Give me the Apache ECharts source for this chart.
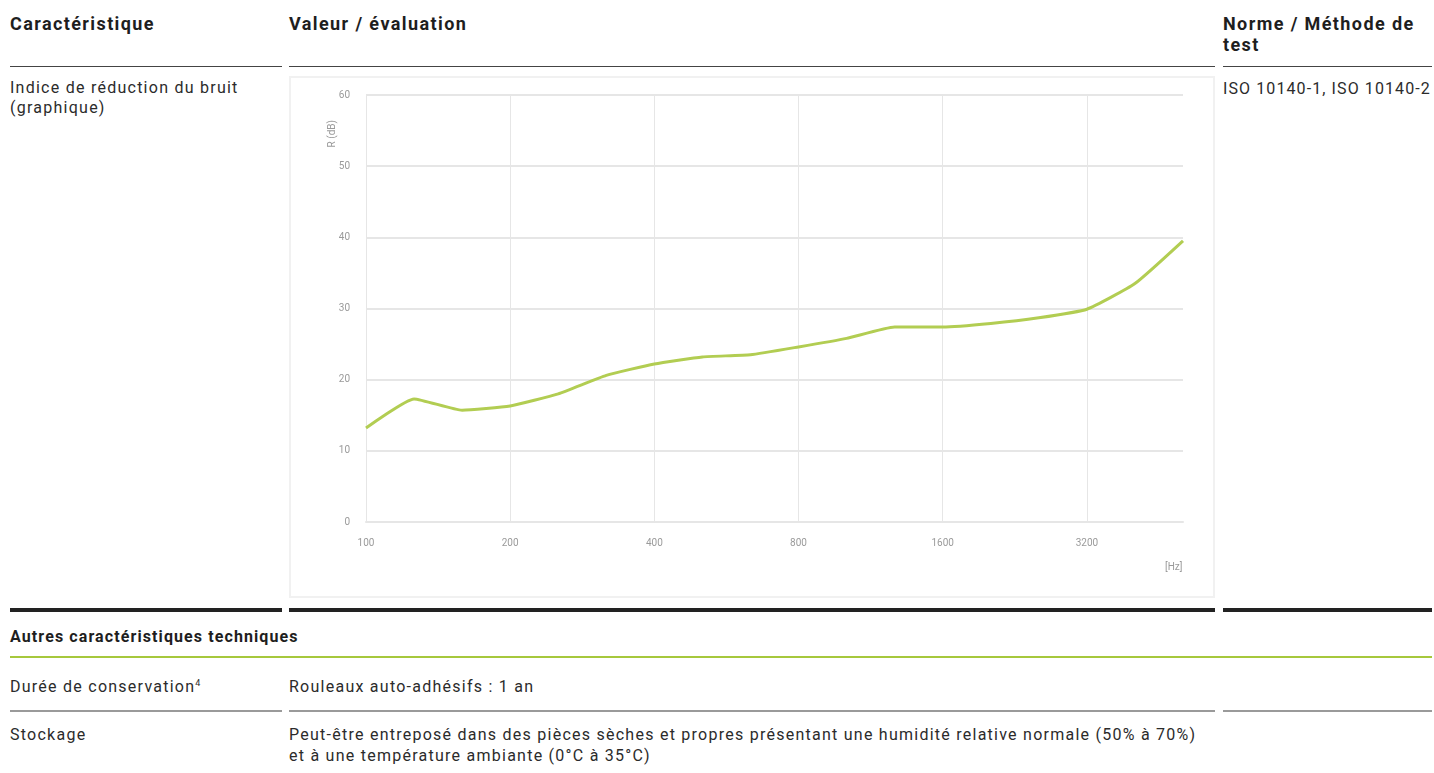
<!DOCTYPE html>
<html lang="fr">
<head>
<meta charset="utf-8">
<title>Indice de réduction du bruit</title>
<script src="https://cdn.jsdelivr.net/npm/echarts@6/dist/echarts.min.js"></script>
<style>
  html, body { margin: 0; padding: 0; background: #fff; }
  body { width: 1434px; height: 773px; position: relative; overflow: hidden;
         font-family: Roboto, "Noto Sans", sans-serif; color: #2b2b2b; }
  .t { position: absolute; white-space: nowrap; font-size: 16px; line-height: 21px; letter-spacing: 1.25px; }
  .h { font-weight: bold; font-size: 18px; color: #1e1e1e; letter-spacing: 1.4px; }
  .sub { font-weight: bold; font-size: 16px; color: #1e1e1e; letter-spacing: 1.1px; }
  .rule { position: absolute; }
  .thin { height: 1px; background: #444; }
  .thick { height: 4px; background: #222; }
  .grey { height: 2px; background: #9a9a9a; }
  .green { height: 2px; background: #a6c83c; }
  #chart { position: absolute; left: 289px; top: 76px; width: 926px; height: 522px;
           box-sizing: border-box; border: 2px solid #f1f1f1; background: #fff; }
</style>
</head>
<body>
<div class="t h" style="left:10px;top:13px;">Caractéristique</div>
<div class="t h" style="left:289px;top:13px;">Valeur / évaluation</div>
<div class="t h" style="left:1223px;top:13px;">Norme / Méthode de<br>test</div>

<div class="rule thin" style="left:10px;top:66px;width:272px;"></div>
<div class="rule thin" style="left:289px;top:66px;width:926px;"></div>
<div class="rule thin" style="left:1223px;top:66px;width:209px;"></div>

<div class="t" style="left:10px;top:78px;line-height:20px;">Indice de réduction du bruit<br>(graphique)</div>
<div class="t" style="left:1223px;top:78px;letter-spacing:1.1px;">ISO 10140-1, ISO 10140-2</div>

<div id="chart"></div>

<div class="rule thick" style="left:10px;top:608px;width:272px;"></div>
<div class="rule thick" style="left:289px;top:608px;width:926px;"></div>
<div class="rule thick" style="left:1223px;top:608px;width:209px;"></div>

<div class="t sub" style="left:10px;top:626px;">Autres caractéristiques techniques</div>
<div class="rule green" style="left:10px;top:656px;width:1422px;"></div>

<div class="t" style="left:10px;top:676px;">Durée de conservation<sup style="font-size:9px;vertical-align:6px;line-height:0;">4</sup></div>
<div class="t" style="left:289px;top:676px;">Rouleaux auto-adhésifs : 1 an</div>

<div class="rule grey" style="left:10px;top:710px;width:272px;"></div>
<div class="rule grey" style="left:289px;top:710px;width:926px;"></div>
<div class="rule grey" style="left:1223px;top:710px;width:209px;"></div>

<div class="t" style="left:10px;top:724px;">Stockage</div>
<div class="t" style="left:289px;top:724px;">Peut-être entreposé dans des pièces sèches et propres présentant une humidité relative normale (50% à 70%)<br>et à une température ambiante (0°C à 35°C)</div>

<script>
// third-octave bands, Hz
var frequencies = ['100', '125', '160', '200', '250', '315', '400', '500', '630',
                   '800', '1000', '1250', '1600', '2000', '2500', '3200', '4000', '5000'];
// sound reduction index R, dB
var reduction = [13.2, 17.3, 15.7, 16.3, 18.0, 20.6, 22.2, 23.2, 23.5,
                 24.6, 25.8, 27.4, 27.4, 27.9, 28.7, 29.9, 33.5, 39.5];
var yTicks = [0, 60, 10]; // min, max, step

var chart = echarts.init(document.getElementById('chart'));
var grey = '#9a9a9a';
chart.setOption({
  animation: false,
  grid: { left: 75, right: 30, top: 17, bottom: 74 },
  xAxis: {
    type: 'category',
    boundaryGap: false,
    data: frequencies,
    axisTick: { show: false },
    axisLine: { lineStyle: { color: '#e6e6e6', width: 2 } },
    axisLabel: { interval: 2, color: grey, fontSize: 10, margin: 16, fontFamily: 'Roboto' },
    splitLine: { show: true, interval: 2, lineStyle: { color: '#e6e6e6', width: 1 } }
  },
  yAxis: {
    type: 'value',
    min: yTicks[0], max: yTicks[1], interval: yTicks[2],
    axisLine: { show: false },
    axisTick: { show: false },
    axisLabel: { color: grey, fontSize: 10, margin: 16, fontFamily: 'Roboto' },
    splitLine: { lineStyle: { color: '#e6e6e6', width: 2 } }
  },
  graphic: [
    { type: 'text', left: 36, top: 42, rotation: Math.PI / 2,
      style: { text: 'R (dB)', fill: grey, font: '10px Roboto' } },
    { type: 'text', left: 874, top: 484,
      style: { text: '[Hz]', fill: grey, font: '10px Roboto' } }
  ],
  series: [{
    type: 'line',
    data: reduction,
    smooth: 0.15,
    showSymbol: false,
    lineStyle: { color: '#b2cd52', width: 3 }
  }]
});
</script>
</body>
</html>
